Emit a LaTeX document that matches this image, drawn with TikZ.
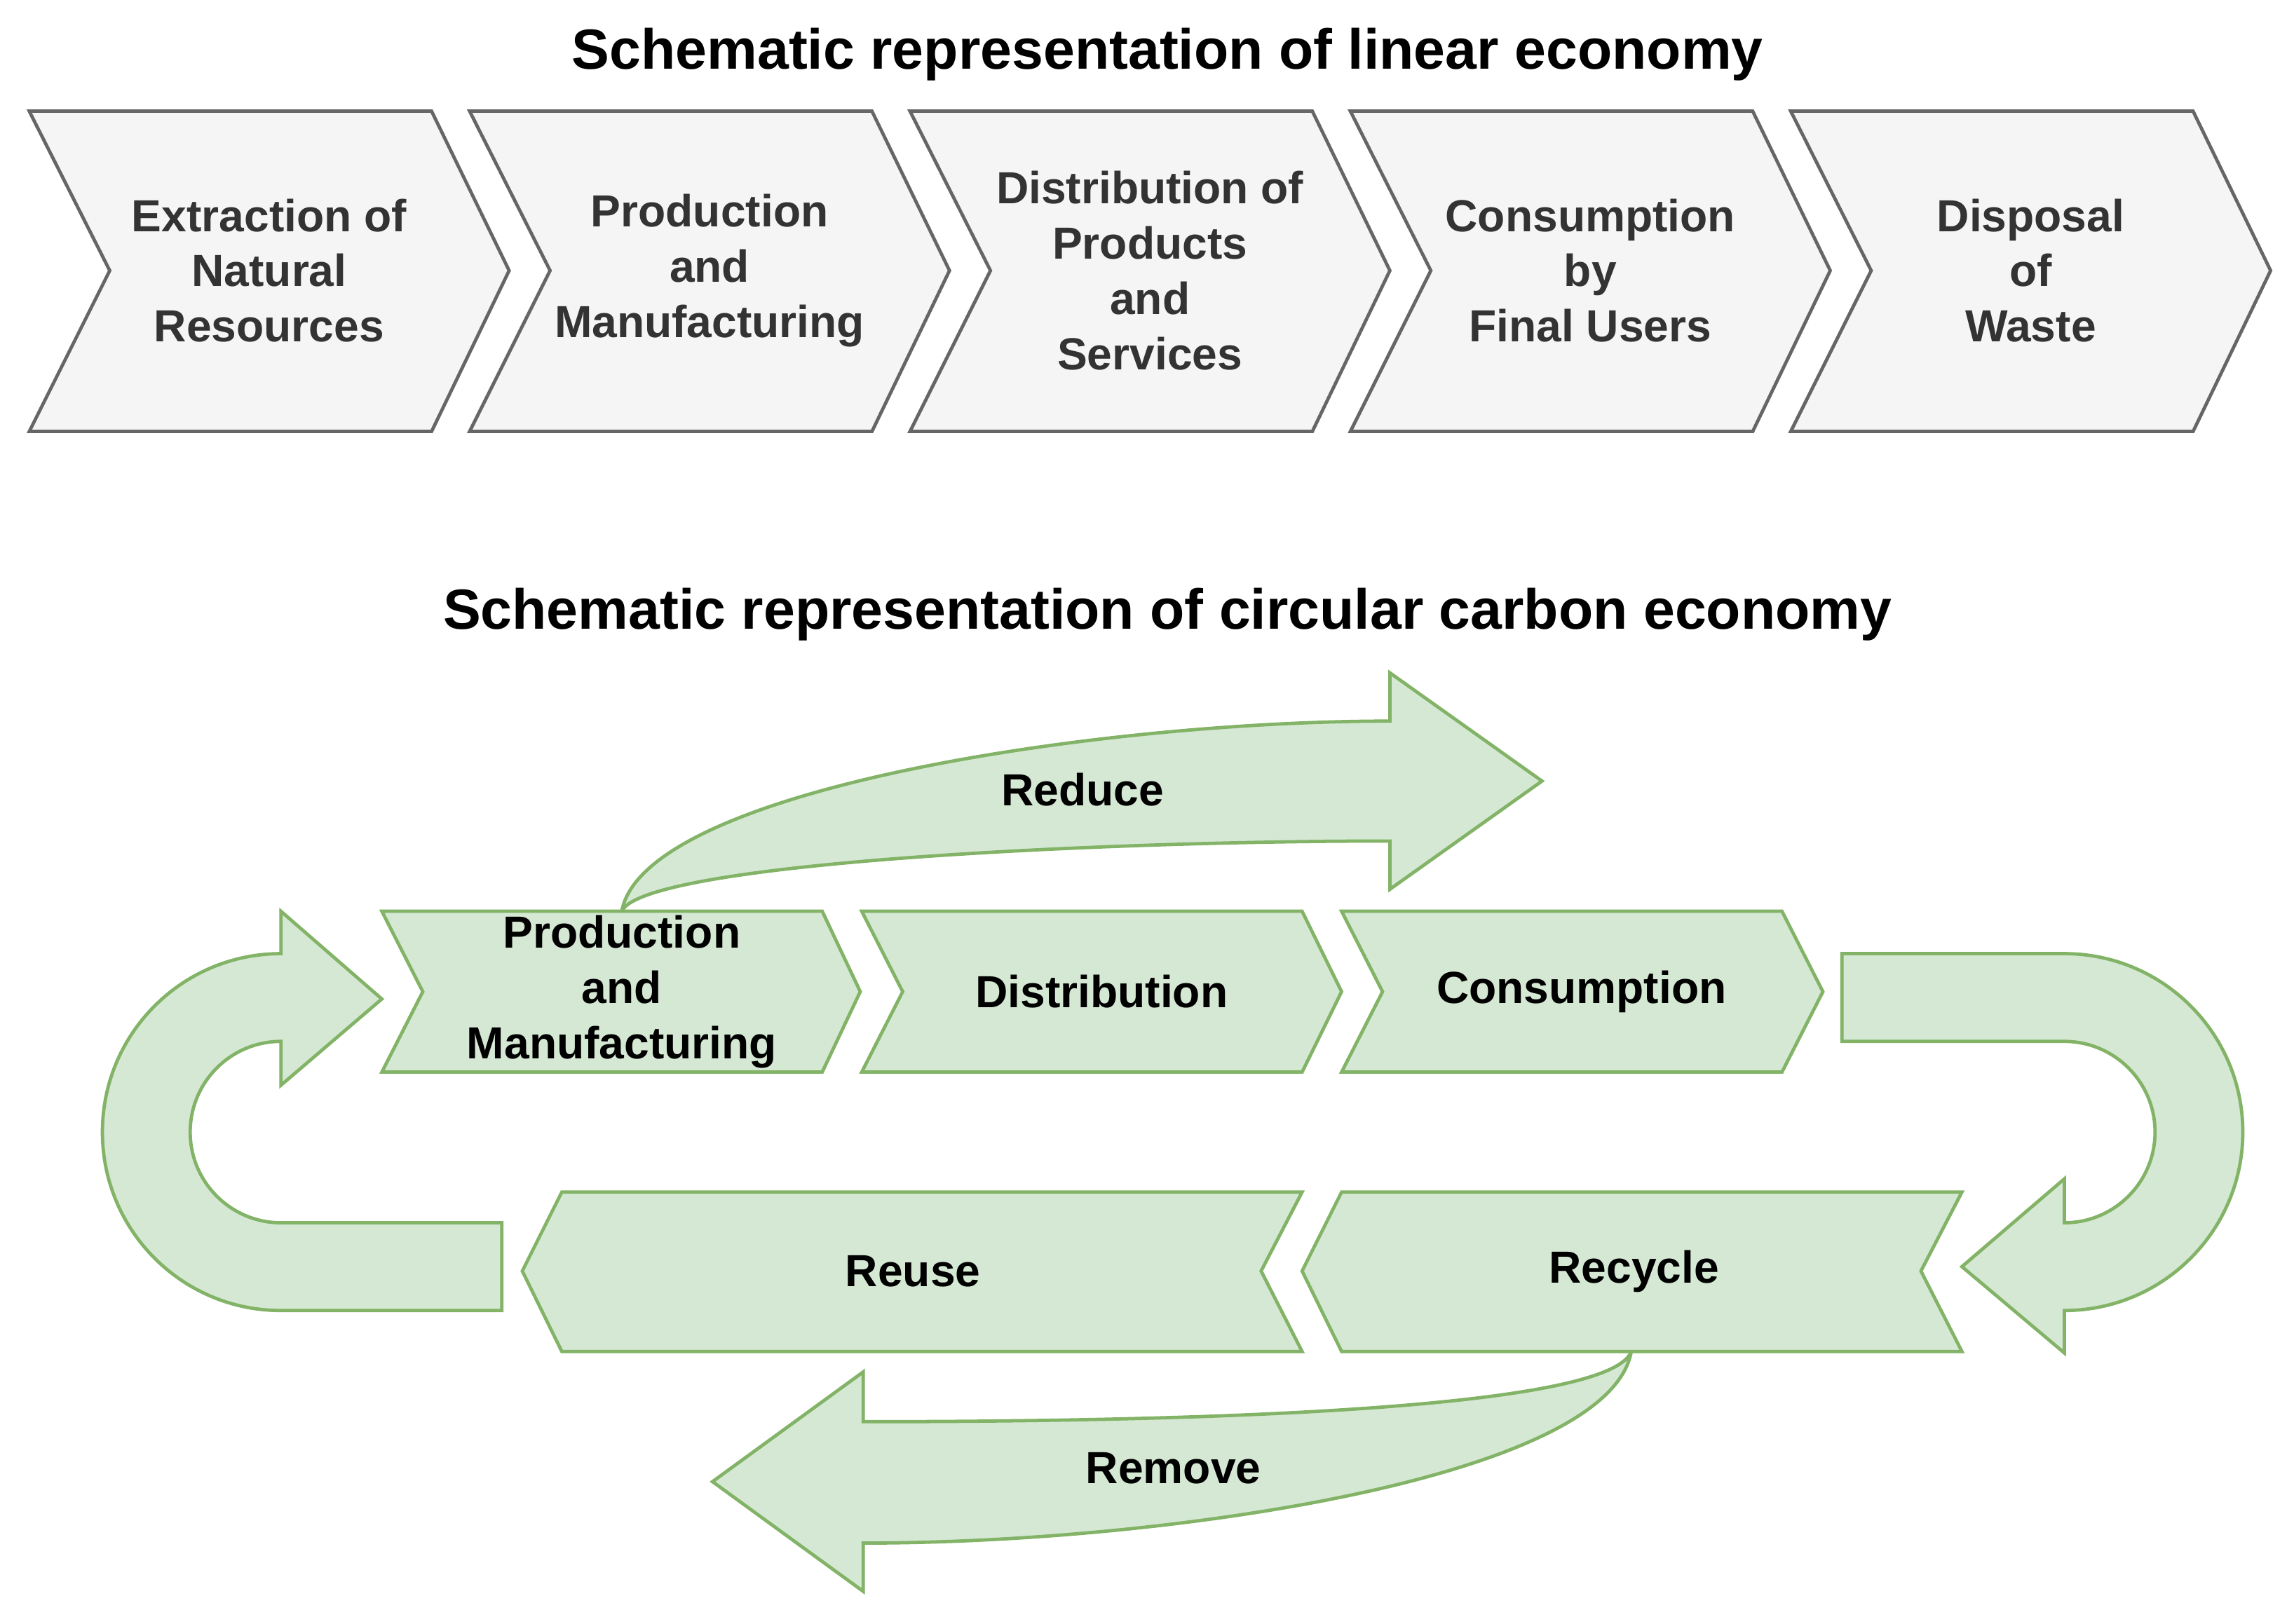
\documentclass[tikz,border=0pt]{standalone}
\usepackage{fontspec}
\setmainfont{Liberation Sans}
\usepackage{xcolor}
\definecolor{greyfill}{HTML}{F5F5F5}
\definecolor{greyline}{HTML}{666666}
\definecolor{greytext}{HTML}{333333}
\definecolor{greenfill}{HTML}{D5E8D4}
\definecolor{greenline}{HTML}{82B366}
\begin{document}
\begin{tikzpicture}[x=0.02cm,y=-0.02cm,line width=1.3pt,line join=miter,
    grey/.style={fill=greyfill,draw=greyline},
    green/.style={fill=greenfill,draw=greenline},
    title/.style={font=\fontsize{22}{26}\selectfont\bfseries},
    label/.style={align=center,font=\fontsize{17.5}{21.5}\selectfont\bfseries}]
  \useasboundingbox (0,0) rectangle (1568,1110);
  % linear economy
  \node[title] (lintitle) at (798,37) {Schematic representation of linear economy};
  \foreach \i/\txt/\nm in {0/{Extraction of\\Natural\\Resources}/extract,
      1/{Production\\and\\Manufacturing}/produce,
      2/{Distribution of\\Products\\and\\Services}/distrib,
      3/{Consumption\\by\\Final Users}/consume,
      4/{Disposal\\of\\Waste}/dispose} {
    \draw[grey,xshift=\i*301*0.02cm] (20,76) -- (295,76) -- (348,185) -- (295,295)
      -- (20,295) -- (75,185) -- cycle;
    \node[label,text=greytext] (\nm) at (184+301*\i,185) {\txt};
  }
  % circular carbon economy
  \node[title] (circtitle) at (798,420) {Schematic representation of circular carbon economy};
  % reduce arrow
  \draw[green] (425,623) .. controls (440,540) and (750,493) .. (950,493) -- (950,460)
    -- (1054,534) -- (950,608) -- (950,575) .. controls (750,575) and (440,590) .. (425,623);
  \node[label] (reduce) at (740,540) {Reduce};
  % remove arrow
  \draw[green] (1115,924) .. controls (1100,965) and (800,972) .. (590,972) -- (590,938)
    -- (487,1013) -- (590,1088) -- (590,1055) .. controls (800,1055) and (1100,1010) .. (1115,924);
  \node[label] (remove) at (802,1004) {Remove};
  % top row
  \draw[green] (261,623) -- (562,623) -- (588,678) -- (562,733) -- (261,733) -- (289,678) -- cycle;
  \draw[green] (589,623) -- (890,623) -- (917,678) -- (890,733) -- (589,733) -- (617,678) -- cycle;
  \draw[green] (917,623) -- (1218,623) -- (1246,678) -- (1218,733) -- (917,733) -- (945,678) -- cycle;
  \node[label] (prod) at (425,678) {Production\\and\\Manufacturing};
  \node[label] (dist) at (753,678) {Distribution};
  \node[label] (cons) at (1081,678) {Consumption};
  % bottom row
  \draw[green] (384,815) -- (890,815) -- (862,869) -- (890,924) -- (384,924) -- (357,869) -- cycle;
  \draw[green] (917,815) -- (1341,815) -- (1313,869) -- (1341,924) -- (917,924) -- (890,869) -- cycle;
  \node[label] (reuse) at (624,869) {Reuse};
  \node[label] (recycle) at (1117,869) {Recycle};
  % left return arrow
  \draw[green] (343,836) -- (192,836) .. controls (157.8,836) and (130,808.2) .. (130,774)
    .. controls (130,739.8) and (157.8,712) .. (192,712) -- (192,742) -- (261,683)
    -- (192,623) -- (192,652) .. controls (124.6,652) and (70,706.6) .. (70,774)
    .. controls (70,841.4) and (124.6,896) .. (192,896) -- (343,896) -- cycle;
  % right return arrow
  \draw[green] (1259,652) -- (1411,652) .. controls (1478.4,652) and (1533,706.6) .. (1533,774)
    .. controls (1533,841.4) and (1478.4,896) .. (1411,896) -- (1411,925) -- (1341,866)
    -- (1411,806) -- (1411,836) .. controls (1445.2,836) and (1473,808.2) .. (1473,774)
    .. controls (1473,739.8) and (1445.2,712) .. (1411,712) -- (1259,712) -- cycle;
\end{tikzpicture}
\end{document}
